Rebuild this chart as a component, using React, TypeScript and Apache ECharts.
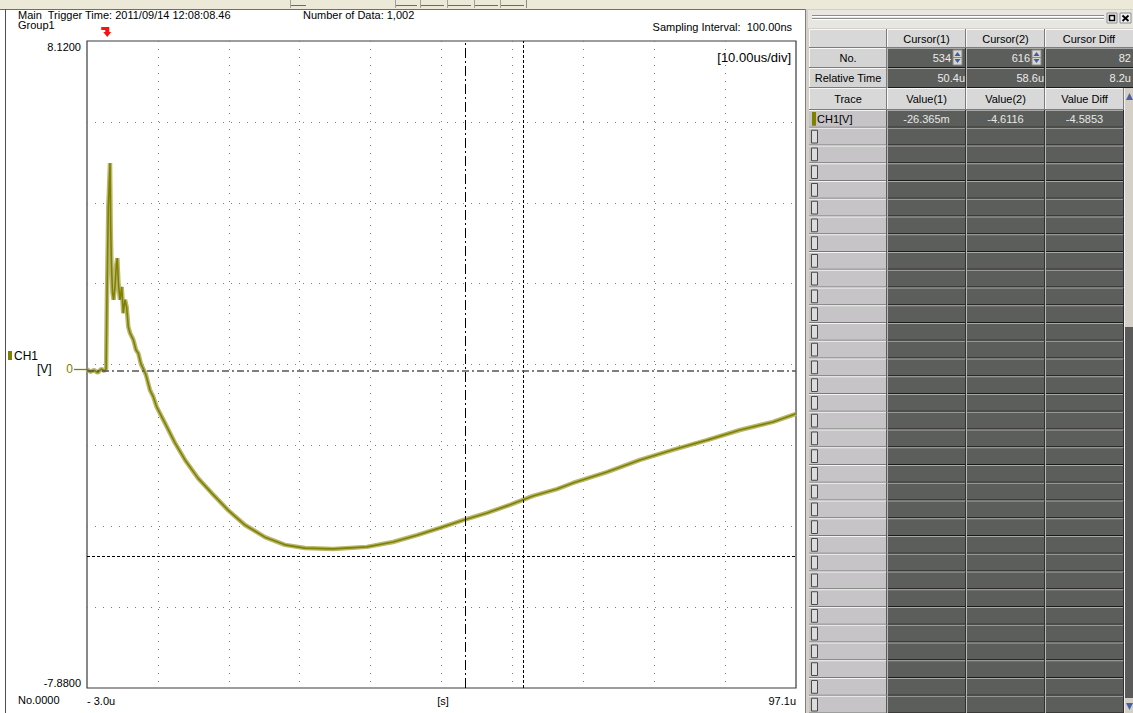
import React, { useEffect, useRef } from "react";
import * as echarts from "echarts";

// ---- data ----
const timeUs = [-3.0, -2.5, -2.0, -1.5, -1.0, -0.5, -0.3, -0.22, 0.01, 0.25, 0.35, 0.45, 0.6, 0.75, 0.95, 1.15, 1.28, 1.45, 1.66, 1.9, 2.12, 2.36, 2.6, 2.83, 3.07, 3.54, 3.92, 4.24, 4.62, 4.95, 5.33, 5.89, 6.36, 6.84, 8.01, 9.42, 10.84, 12.67, 14.61, 16.91, 19.31, 22.13, 24.95, 27.78, 31.73, 36.53, 40.2, 43.59, 46.84, 50.08, 53.47, 56.72, 59.97, 63.35, 65.61, 70.41, 75.07, 79.73, 84.53, 89.19, 93.85, 97.1];
const voltV = [0, -0.06, -0.02, -0.08, 0.01, -0.04, 0.02, 1.3, 4.02, 5.1, 3.45, 2.6, 1.9, 1.72, 2.04, 2.6, 2.75, 2.09, 1.72, 2.04, 1.39, 1.72, 1.54, 1.05, 0.9, 0.73, 0.48, 0.4, 0.13, 0.01, -0.14, -0.51, -0.68, -0.93, -1.33, -1.82, -2.24, -2.69, -3.06, -3.48, -3.85, -4.15, -4.34, -4.42, -4.44, -4.39, -4.27, -4.1, -3.92, -3.73, -3.55, -3.35, -3.13, -2.96, -2.81, -2.54, -2.24, -1.99, -1.75, -1.5, -1.3, -1.1];
const xRange = [-3.0, 97.1];
const yRange = [-7.88, 8.12];
const xDivisions = 10;
const yDivisions = 8;
const cursorTimes = [50.4, 58.6];
const cursorValues = [-0.026365, -4.6116];
const headerLabels = ["Cursor(1)", "Cursor(2)", "Cursor Diff"];
const rowLabels = ["No.", "Relative Time"];
const cursorNos = ["534", "616", "82"];
const relTimes = ["50.4u", "58.6u", "8.2u"];
const traceHeaders = ["Trace", "Value(1)", "Value(2)", "Value Diff"];
const traceName = "CH1[V]";
const traceValues = ["-26.365m", "-4.6116", "-4.5853"];

const FONT = '"Liberation Sans", Arial, sans-serif';
const OLIVE = "#808000";

function txt(x: number, y: number, t: string, o: any = {}) {
  const align = o.align || "left";
  const va = o.va || "middle";
  return {
    type: "text",
    x,
    y,
    silent: true,
    z: o.z || 10,
    style: {
      text: t,
      fontSize: o.size || 11,
      fontFamily: FONT,
      fill: o.fill || "#000",
      align,
      verticalAlign: va,
      textAlign: align,
      textVerticalAlign: va,
    },
  };
}
function rect(x: number, y: number, w: number, h: number, fill: string, stroke?: string, lw?: number) {
  return { type: "rect", silent: true, z: 5, shape: { x, y, width: w, height: h }, style: { fill, stroke: stroke || null, lineWidth: lw || 0 } };
}
function line(x1: number, y1: number, x2: number, y2: number, stroke: string, lw = 1) {
  return { type: "line", silent: true, z: 6, shape: { x1, y1, x2, y2 }, style: { stroke, lineWidth: lw } };
}
function poly(points: number[][], fill: string) {
  return { type: "polygon", silent: true, z: 7, shape: { points }, style: { fill } };
}

function cell3D(g: any[], x: number, y: number, w: number, h: number, fill: string) {
  g.push(rect(x, y, w, h, fill));
  g.push(line(x, y + 0.5, x + w, y + 0.5, "#f8f8f8"));
  g.push(line(x + 0.5, y, x + 0.5, y + h, "#f8f8f8"));
  g.push(line(x, y + h - 0.5, x + w, y + h - 0.5, "#7c7c7c"));
  g.push(line(x + w - 0.5, y, x + w - 0.5, y + h, "#7c7c7c"));
}
function darkCell(g: any[], x: number, y: number, w: number, h: number) {
  g.push(rect(x, y, w, h, "#5c5e5b"));
  g.push(line(x, y + 0.5, x + w, y + 0.5, "#a9a9a9"));
  g.push(line(x, y + h - 0.5, x + w, y + h - 0.5, "#1a1a1a"));
  g.push(line(x + 0.5, y, x + 0.5, y + h, "#b8b8b8", 1));
  g.push(line(x + w - 0.5, y, x + w - 0.5, y + h, "#303030", 1));
}
function spinner(g: any[], x: number, y: number) {
  g.push(rect(x, y, 9, 15, "#d8d6d0", "#8a8a8a", 1));
  g.push(line(x, y + 7.5, x + 9, y + 7.5, "#8a8a8a"));
  g.push(poly([[x + 1.5, y + 6], [x + 7.5, y + 6], [x + 4.5, y + 2]], "#3c5ea8"));
  g.push(poly([[x + 1.5, y + 9], [x + 7.5, y + 9], [x + 4.5, y + 13]], "#3c5ea8"));
}

function buildGraphic(zeroY: number, trigX: number) {
  const g: any[] = [];
  // top toolbar strip
  g.push(rect(0, 0, 1133, 9, "#ece9d8"));
  [[290, 16], [395, 22], [420, 24], [447, 24], [474, 24], [500, 24]].forEach(([x, w]) => {
    g.push(line(x, 5.5, x + w, 5.5, "#6a6a6a"));
    g.push(line(x + 0.5, 0, x + 0.5, 8, "#a0a0a0"));
  });
  g.push(line(526.5, 0, 526.5, 8, "#8a8a8a"));
  g.push(line(0, 9.5, 806, 9.5, "#6e6e6e"));
  g.push(line(5.5, 9, 5.5, 713, "#505050"));

  // header texts of the waveform panel
  g.push(txt(18, 15, "Main  Trigger Time: 2011/09/14 12:08:08.46"));
  g.push(txt(18, 25, "Group1"));
  g.push(txt(303, 15, "Number of Data: 1,002"));
  g.push(txt(792, 27, "Sampling Interval:  100.00ns", { align: "right" }));
  g.push(txt(791, 57, "[10.00us/div]", { align: "right", size: 13 }));
  g.push(txt(18, 700, "No.0000"));
  g.push(txt(443, 701, "[s]", { align: "center" }));

  // trigger marker
  g.push(poly([[trigX - 7, 27], [trigX + 1, 27], [trigX + 1, 32], [trigX + 3, 32], [trigX - 1, 37], [trigX - 5, 32], [trigX - 3, 32], [trigX - 3, 30], [trigX - 7, 30]], "#ff1010"));

  // channel label + zero marker
  g.push(rect(8, 351, 4, 9, OLIVE));
  g.push(txt(14, 356, "CH1", { size: 12 }));
  g.push(txt(37, 369, "[V]", { size: 12 }));
  g.push(txt(73, zeroY, "0", { align: "right", size: 12, fill: OLIVE }));
  g.push(line(74, Math.round(zeroY) + 0.5, 88, Math.round(zeroY) + 0.5, OLIVE, 1.3));

  // right panel
  g.push(rect(805, 9, 328, 704, "#d4d0c8"));
  g.push(line(805.5, 9, 805.5, 713, "#808080"));
  g.push(rect(808, 10, 325, 18, "#e8e6e0"));
  [15.5, 18.5].forEach((y) => {
    g.push(line(812, y, 1104, y, "#8c8c8c"));
    g.push(line(812, y + 1, 1104, y + 1, "#ffffff"));
  });
  g.push(rect(1107, 13, 10, 10, "#f0f0f0", "#8c8c8c", 1));
  g.push(rect(1109.5, 15.5, 5, 5, "#f0f0f0", "#000", 1.5));
  g.push(rect(1120, 13, 11, 10, "#f0f0f0", "#8c8c8c", 1));
  g.push(line(1122.5, 15.5, 1128.5, 21, "#000", 1.8));
  g.push(line(1128.5, 15.5, 1122.5, 21, "#000", 1.8));

  const colX = [809, 887, 966, 1045, 1150];
  // top section
  const topRows = [29, 48, 68, 88];
  // header row
  for (let c = 0; c < 4; c++) {
    cell3D(g, colX[c], topRows[0], colX[c + 1] - colX[c], topRows[1] - topRows[0], "#d8d8d8");
    if (c > 0) g.push(txt((colX[c] + Math.min(colX[c + 1], 1133 + 12)) / 2 - (c === 3 ? 6 : 0), 38.5, headerLabels[c - 1], { align: "center" }));
  }
  // No. / Relative Time rows
  for (let r = 0; r < 2; r++) {
    const y0 = topRows[r + 1];
    const h = topRows[r + 2] - y0;
    cell3D(g, colX[0], y0, colX[1] - colX[0], h, "#d4d4d4");
    g.push(txt((colX[0] + colX[1]) / 2, y0 + h / 2, rowLabels[r], { align: "center" }));
    for (let c = 1; c < 4; c++) {
      darkCell(g, colX[c], y0, colX[c + 1] - colX[c], h);
      if (r === 0) {
        const right = c < 3 ? colX[c + 1] - 15 : 1131;
        g.push(txt(right, y0 + h / 2, cursorNos[c - 1], { align: "right", fill: "#ececec" }));
        if (c < 3) spinner(g, colX[c + 1] - 13, y0 + 2);
      } else {
        const right = c < 3 ? colX[c + 1] - 1 : 1131;
        g.push(txt(right, y0 + h / 2, relTimes[c - 1], { align: "right", fill: "#ececec" }));
      }
    }
  }
  // trace header
  const tColX = [809, 887, 966, 1045, 1124];
  const th0 = 88;
  const th1 = 110;
  for (let c = 0; c < 4; c++) {
    cell3D(g, tColX[c], th0, tColX[c + 1] - tColX[c], th1 - th0, "#d8d8d8");
    g.push(txt((tColX[c] + tColX[c + 1]) / 2, (th0 + th1) / 2, traceHeaders[c], { align: "center" }));
  }
  // scrollbar
  g.push(rect(1124, th0, 9, 327 - th0, "#d4d0c8"));
  g.push(rect(1124, 327, 9, 713 - 327, "#5a5a5a"));
  g.push(line(1124.5, th0, 1124.5, 713, "#f0f0f0"));
  g.push(poly([[1126, 100], [1133, 100], [1129.5, 93]], "#4a62a0"));
  g.push(rect(1124, 698, 9, 15, "#d4d0c8"));
  g.push(poly([[1126, 703], [1133, 703], [1129.5, 710]], "#4a62a0"));

  // trace rows
  const rowH = 17.75;
  for (let r = 0; th1 + r * rowH < 713; r++) {
    const y0 = th1 + r * rowH;
    g.push(rect(tColX[0], y0, tColX[1] - tColX[0], rowH, "#c6c4c6"));
    g.push(line(tColX[0], y0 + 0.5, tColX[1], y0 + 0.5, "#f4f4f4"));
    g.push(line(tColX[0], y0 + rowH - 0.5, tColX[1], y0 + rowH - 0.5, "#7a7a7a"));
    g.push(line(tColX[1] - 0.5, y0, tColX[1] - 0.5, y0 + rowH, "#5a5a5a"));
    if (r === 0) {
      g.push(rect(812, y0 + 2, 4, rowH - 4, OLIVE));
      g.push(txt(817, y0 + rowH / 2, traceName));
    } else {
      g.push(rect(811.5, y0 + 2.5, 6, rowH - 5, "#dcdcdc", "#4a4a4a", 1));
    }
    for (let c = 1; c < 4; c++) {
      darkCell(g, tColX[c], y0, tColX[c + 1] - tColX[c], rowH);
      if (r === 0) g.push(txt((tColX[c] + tColX[c + 1]) / 2, y0 + rowH / 2, traceValues[c - 1], { align: "center", fill: "#e8e8e8" }));
    }
  }
  return g;
}

export default function App() {
  const ref = useRef<HTMLDivElement>(null);
  useEffect(() => {
    document.body.style.margin = "0";
    if (!ref.current) return;
    const chart = echarts.init(ref.current, null, { renderer: "svg", width: 1133, height: 713 });
    const seriesData = timeUs.map((t, i) => [t, voltV[i]]);
    const gridLine = { show: true, showMinLine: false, showMaxLine: false, lineStyle: { color: "#7c7c7c", type: [1, 7], width: 1 } };
    const option: any = {
      animation: false,
      backgroundColor: "#ffffff",
      textStyle: { fontFamily: FONT },
      grid: { left: 87, top: 41, width: 709, height: 647, show: true, borderColor: "#3a3a3a", borderWidth: 1.2, backgroundColor: "#ffffff" },
      xAxis: [
        {
          type: "value",
          min: xRange[0],
          max: xRange[1],
          interval: 1000,
          axisLine: { show: false },
          axisTick: { show: false },
          splitLine: { show: false },
          axisLabel: {
            show: true,
            showMinLabel: true,
            showMaxLabel: true,
            alignMinLabel: "left",
            alignMaxLabel: "right",
            margin: 7,
            color: "#000",
            fontSize: 11,
            fontFamily: FONT,
            formatter: (v: number) => {
              if (Math.abs(v - xRange[0]) < 1e-6) return "- " + Math.abs(v).toFixed(1) + "u";
              if (Math.abs(v - xRange[1]) < 1e-6) return v.toFixed(1) + "u";
              return "";
            },
          },
        },
        {
          type: "value",
          min: 0,
          max: xDivisions,
          interval: 1,
          axisLine: { show: false },
          axisTick: { show: false },
          axisLabel: { show: false },
          splitLine: gridLine,
        },
      ],
      yAxis: [
        {
          type: "value",
          min: yRange[0],
          max: yRange[1],
          interval: 1000,
          axisLine: { show: false },
          axisTick: { show: false },
          splitLine: { show: false },
          axisLabel: {
            show: true,
            showMinLabel: true,
            showMaxLabel: true,
            verticalAlignMinLabel: "bottom",
            verticalAlignMaxLabel: "top",
            margin: 6,
            color: "#000",
            fontSize: 11,
            fontFamily: FONT,
            formatter: (v: number) => (Math.abs(v) < 1e-9 ? "" : v.toFixed(4)),
          },
        },
        {
          type: "value",
          min: 0,
          max: yDivisions,
          interval: 1,
          axisLine: { show: false },
          axisTick: { show: false },
          axisLabel: { show: false },
          splitLine: gridLine,
        },
      ],
      series: [
        {
          type: "line",
          name: "CH1 band",
          xAxisIndex: 0,
          yAxisIndex: 0,
          data: seriesData,
          showSymbol: false,
          symbol: "none",
          silent: true,
          lineStyle: { color: "#b8b870", width: 4.5 },
          z: 2,
        },
        {
          type: "line",
          name: "CH1",
          xAxisIndex: 0,
          yAxisIndex: 0,
          data: seriesData,
          showSymbol: false,
          symbol: "none",
          lineStyle: { color: OLIVE, width: 1.6 },
          z: 3,
          markLine: {
            silent: true,
            symbol: "none",
            label: { show: false },
            data: [
              { xAxis: cursorTimes[0], lineStyle: { color: "#000", width: 1, type: [10, 3, 2, 3] } },
              { xAxis: cursorTimes[1], lineStyle: { color: "#000", width: 1, type: [3, 2] } },
              { yAxis: cursorValues[0], lineStyle: { color: "#555", width: 1.5, type: [7, 3, 2, 3] } },
              { yAxis: cursorValues[1], lineStyle: { color: "#000", width: 1, type: [3, 2] } },
            ],
          },
        },
      ],
    };
    chart.setOption(option);
    const zeroY = chart.convertToPixel({ yAxisIndex: 0 }, 0) as number;
    const trigX = chart.convertToPixel({ xAxisIndex: 0 }, 0) as number;
    chart.setOption({ graphic: buildGraphic(zeroY, trigX) });
    return () => chart.dispose();
  }, []);
  return <div ref={ref} style={{ width: 1133, height: 713 }} />;
}
